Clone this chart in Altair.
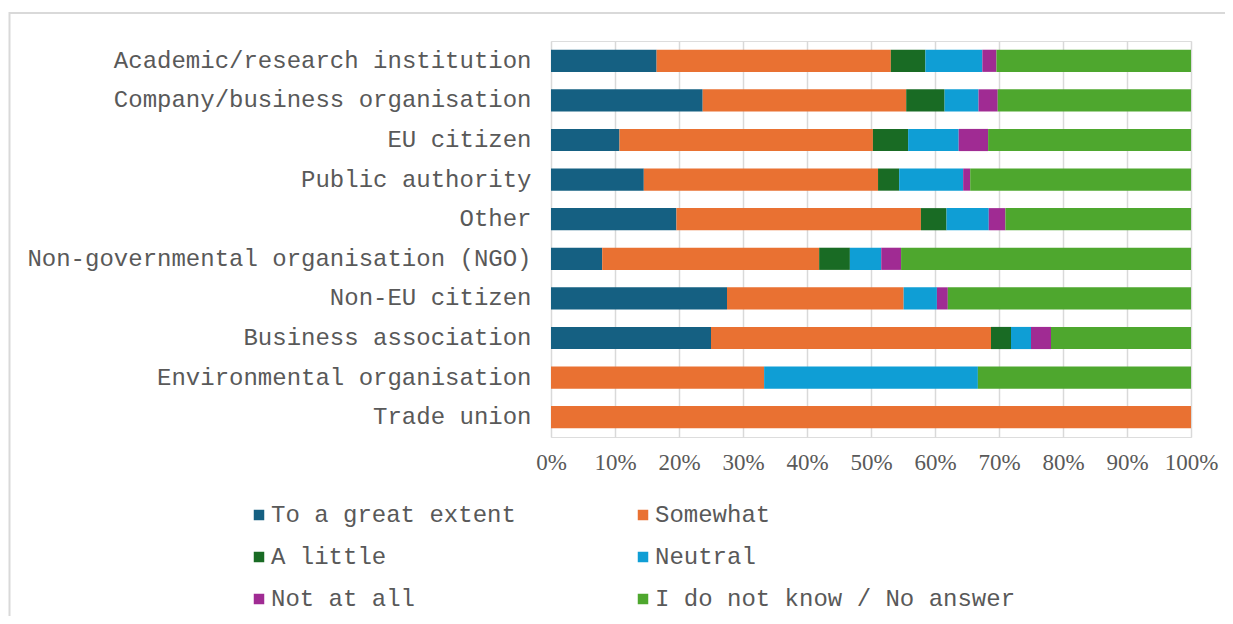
import altair as alt
import pandas as pd

categories = [
    "Academic/research institution",
    "Company/business organisation",
    "EU citizen",
    "Public authority",
    "Other",
    "Non-governmental organisation (NGO)",
    "Non-EU citizen",
    "Business association",
    "Environmental organisation",
    "Trade union",
]
responses = [
    "To a great extent",
    "Somewhat",
    "A little",
    "Neutral",
    "Not at all",
    "I do not know / No answer",
]
colors = ["#156082", "#E97132", "#196B24", "#0F9ED5", "#A02B93", "#4EA72E"]

great = [16.5, 23.7, 10.7, 14.5, 19.6, 8.0, 27.5, 25.0, 0.0, 0.0]
somewhat = [36.6, 31.8, 39.6, 36.6, 38.2, 33.9, 27.6, 43.75, 33.3, 100.0]
little = [5.4, 6.0, 5.5, 3.3, 4.0, 4.8, 0.0, 3.125, 0.0, 0.0]
neutral = [8.9, 5.3, 7.9, 10.0, 6.6, 4.9, 5.2, 3.125, 33.4, 0.0]
notatall = [2.2, 3.0, 4.6, 1.1, 2.6, 3.1, 1.7, 3.125, 0.0, 0.0]
dontknow = [30.4, 30.2, 31.7, 34.5, 29.0, 45.3, 38.0, 21.875, 33.3, 0.0]

series = [great, somewhat, little, neutral, notatall, dontknow]
rows = []
for ri, (resp, vals) in enumerate(zip(responses, series)):
    for cat, v in zip(categories, vals):
        rows.append({"category": cat, "response": resp, "order": ri, "value": v})
df = pd.DataFrame(rows)

FONT_MONO = "Liberation Mono"
FONT_SERIF = "Liberation Serif"
GRAY_TEXT = "#595959"
GRID = "#d9d9d9"

bars = alt.Chart(df).mark_bar().encode(
    y=alt.Y(
        "category:N",
        sort=categories,
        title=None,
        scale=alt.Scale(paddingInner=0.44, paddingOuter=0.22),
        axis=alt.Axis(
            domain=False,
            ticks=False,
            grid=False,
            labelFont=FONT_MONO,
            labelFontSize=24,
            labelColor=GRAY_TEXT,
            labelPadding=20,
            labelLimit=600,
        ),
    ),
    x=alt.X(
        "value:Q",
        stack="normalize",
        title=None,
        scale=alt.Scale(domain=[0, 1], nice=False),
        axis=alt.Axis(
            format=".0%",
            values=[i / 10 for i in range(11)],
            domain=False,
            ticks=False,
            grid=True,
            gridColor=GRID,
            gridWidth=1.5,
            labelFont=FONT_SERIF,
            labelFontSize=23,
            labelColor=GRAY_TEXT,
            labelPadding=14,
            labelFlush=False,
        ),
    ),
    color=alt.Color(
        "response:N",
        scale=alt.Scale(domain=responses, range=colors),
        title=None,
        legend=alt.Legend(
            orient="none",
            legendX=-304,
            legendY=462,
            columns=2,
            direction="horizontal",
            symbolType="square",
            symbolSize=110,
            symbolStrokeWidth=0,
            labelFont=FONT_MONO,
            labelFontSize=24,
            labelColor=GRAY_TEXT,
            labelOffset=0,
            labelLimit=600,
            columnPadding=115,
            rowPadding=18,
            padding=0,
        ),
    ),
    order=alt.Order("order:Q"),
)

frame = alt.Chart(alt.Data(values=[{}])).mark_rect(
    fill=None, stroke=GRID, strokeWidth=2
).encode(
    x=alt.value(-541.5),
    x2=alt.value(720),
    y=alt.value(-28),
    y2=alt.value(620),
)

chart = alt.layer(frame, bars).properties(
    width=640,
    height=396,
    autosize=alt.AutoSizeParams(type="none"),
    padding={"left": 543, "top": 33, "right": 34, "bottom": 179},
).configure_view(stroke=None).configure(background="white")

chart.save("out.html", embed_options={"renderer": "svg", "actions": False})
